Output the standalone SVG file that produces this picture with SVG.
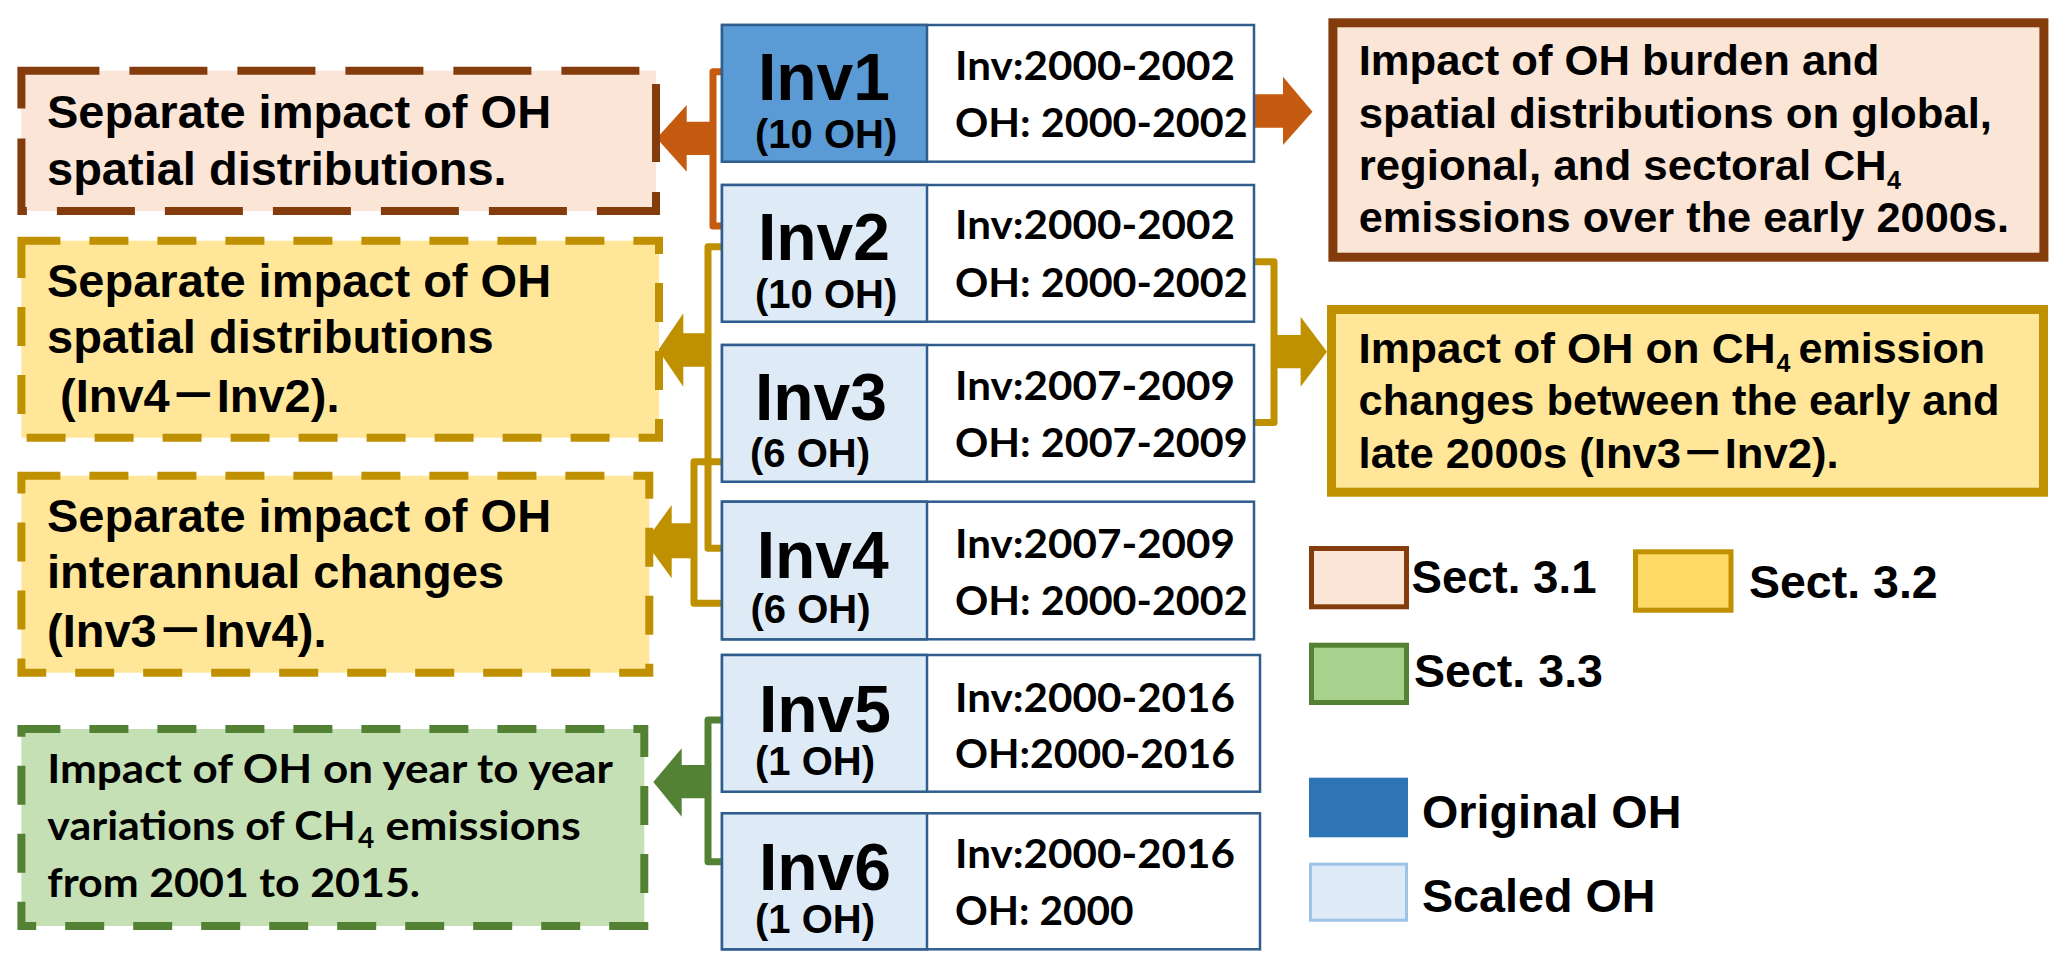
<svg xmlns="http://www.w3.org/2000/svg" width="2067" height="969" viewBox="0 0 2067 969">
<style>
.ar{font-family:"Liberation Sans",Arial,"Noto Sans CJK SC",sans-serif;font-weight:700;fill:#000}
.cb{font-family:Lato,"Liberation Sans","Noto Sans CJK SC",sans-serif;font-weight:700;fill:#000}
.t47{font-size:47px}
.t44{font-size:42px}
.t40{font-size:40px}
.nm{font-size:66px;text-anchor:middle}
.inv{stroke:#2F5E8E;stroke-width:2.5}
.cellw{fill:#FFFFFF}
.cells{fill:#DEEBF7}
.cello{fill:#5B9BD5}
.brd{fill:none;stroke-width:7;stroke-linejoin:round;stroke-linecap:butt}
</style>
<rect width="2067" height="969" fill="#FFFFFF"/>

<g id="connectors">
  <path class="brd" d="M722 71.7 H713 V226 H722" stroke="#C55A11"/>
  <path class="brd" d="M722 246.7 H708 V548.3 H722" stroke="#BF9000"/>
  <path class="brd" d="M722 461.7 H694 V603.3 H722" stroke="#BF9000"/>
  <path class="brd" d="M722 720 H708 V861.7 H722" stroke="#548235"/>
  <path class="brd" d="M1254 261.7 H1274 V422.5 H1254" stroke="#BF9000"/>
  <polygon points="713,121.7 686.7,121.7 686.7,105 656.7,138.3 686.7,171.7 686.7,155 713,155" fill="#C55A11"/>
  <polygon points="708,333.3 683.3,333.3 683.3,313.3 658.3,350 683.3,386.7 683.3,366.7 708,366.7" fill="#BF9000"/>
  <polygon points="694,523.3 671.7,523.3 671.7,505 645,541.7 671.7,578.3 671.7,558.3 694,558.3" fill="#BF9000"/>
  <polygon points="708,765 681.7,765 681.7,748.3 653.3,782 681.7,816.7 681.7,798.3 708,798.3" fill="#548235"/>
  <polygon points="1254,94.3 1283,94.3 1283,76.7 1312.5,111.7 1283,145 1283,127.7 1254,127.7" fill="#C55A11"/>
  <polygon points="1274,335 1300.6,335 1300.6,316.7 1327,351.7 1300.6,386.7 1300.6,368.3 1274,368.3" fill="#BF9000"/>
</g>

<g id="boxA">
  <rect x="21.4" y="70.7" width="634.6" height="140.3" fill="#FBE5D6" stroke="#843C0C" stroke-width="8" stroke-dasharray="78 30"/>
  <text class="ar t47" x="47" y="128.3">Separate impact of OH</text>
  <text class="ar t47" x="47" y="185">spatial distributions.</text>
</g>

<g id="boxB">
  <rect x="21.4" y="240.7" width="637.6" height="197" fill="#FFE699" stroke="#BF9000" stroke-width="8" stroke-dasharray="39 29"/>
  <text class="ar t47" x="47" y="296.7">Separate impact of OH</text>
  <text class="ar t47" x="47" y="353.3">spatial distributions</text>
  <text class="ar t47" x="60" y="411.7">(Inv4－Inv2).</text>
</g>

<g id="boxC">
  <rect x="21.4" y="475.7" width="627.9" height="197" fill="#FFE699" stroke="#BF9000" stroke-width="8" stroke-dasharray="39 29"/>
  <text class="ar t47" x="47" y="531.7">Separate impact of OH</text>
  <text class="ar t47" x="47" y="588.3">interannual changes</text>
  <text class="ar t47" x="47" y="646.7">(Inv3－Inv4).</text>
</g>

<g id="boxF">
  <rect x="21.4" y="729" width="622.9" height="197" fill="#C5E0B4" stroke="#548235" stroke-width="8" stroke-dasharray="39 29"/>
  <text class="cb t40" x="47.3" y="783.3" textLength="565.6" lengthAdjust="spacingAndGlyphs">Impact of OH on year to year</text>
  <text class="cb t40" x="47.3" y="840" textLength="308.5" lengthAdjust="spacingAndGlyphs">variations of CH</text>
  <text class="cb" x="358" y="848.3" font-size="28">4</text>
  <text class="cb t40" x="385.6" y="840" textLength="195.2" lengthAdjust="spacingAndGlyphs">emissions</text>
  <text class="cb t40" x="47.3" y="896.7" textLength="372.7" lengthAdjust="spacingAndGlyphs">from 2001 to 2015.</text>
</g>

<g id="inv1">
  <rect class="inv cellw" x="722" y="25" width="532" height="136.7"/>
  <rect class="inv cello" x="722" y="25" width="205" height="136.7"/>
  <text class="ar nm" x="824" y="100">Inv1</text>
  <text class="ar t40" x="755" y="148.3">(10 OH)</text>
  <text class="cb t40" x="955" y="80" textLength="280" lengthAdjust="spacingAndGlyphs">Inv:2000-2002</text>
  <text class="cb t40" x="955" y="136.7" textLength="292.6" lengthAdjust="spacingAndGlyphs">OH: 2000-2002</text>
</g>

<g id="inv2">
  <rect class="inv cellw" x="722" y="185" width="532" height="136.7"/>
  <rect class="inv cells" x="722" y="185" width="205" height="136.7"/>
  <text class="ar nm" x="824" y="260">Inv2</text>
  <text class="ar t40" x="755" y="308.3">(10 OH)</text>
  <text class="cb t40" x="955" y="239.3" textLength="280" lengthAdjust="spacingAndGlyphs">Inv:2000-2002</text>
  <text class="cb t40" x="955" y="296.7" textLength="292.6" lengthAdjust="spacingAndGlyphs">OH: 2000-2002</text>
</g>

<g id="inv3">
  <rect class="inv cellw" x="722" y="345" width="532" height="136.7"/>
  <rect class="inv cells" x="722" y="345" width="205" height="136.7"/>
  <text class="ar nm" x="821" y="420">Inv3</text>
  <text class="ar t40" x="750" y="466.7">(6 OH)</text>
  <text class="cb t40" x="955" y="400" textLength="280" lengthAdjust="spacingAndGlyphs">Inv:2007-2009</text>
  <text class="cb t40" x="955" y="456.7" textLength="292.6" lengthAdjust="spacingAndGlyphs">OH: 2007-2009</text>
</g>

<g id="inv4">
  <rect class="inv cellw" x="722" y="501.7" width="532" height="137.6"/>
  <rect class="inv cells" x="722" y="501.7" width="205" height="137.6"/>
  <text class="ar nm" x="822.7" y="578.3">Inv4</text>
  <text class="ar t40" x="750.5" y="623.3">(6 OH)</text>
  <text class="cb t40" x="955" y="558.3" textLength="280" lengthAdjust="spacingAndGlyphs">Inv:2007-2009</text>
  <text class="cb t40" x="955" y="615" textLength="292.6" lengthAdjust="spacingAndGlyphs">OH: 2000-2002</text>
</g>

<g id="inv5">
  <rect class="inv cellw" x="722" y="655" width="538" height="136.7"/>
  <rect class="inv cells" x="722" y="655" width="205" height="136.7"/>
  <text class="ar nm" x="825" y="731.7">Inv5</text>
  <text class="ar t40" x="755" y="775">(1 OH)</text>
  <text class="cb t40" x="955" y="711.7" textLength="280" lengthAdjust="spacingAndGlyphs">Inv:2000-2016</text>
  <text class="cb t40" x="955" y="768.3" textLength="280" lengthAdjust="spacingAndGlyphs">OH:2000-2016</text>
</g>

<g id="inv6">
  <rect class="inv cellw" x="722" y="813.3" width="538" height="136"/>
  <rect class="inv cells" x="722" y="813.3" width="205" height="136"/>
  <text class="ar nm" x="825" y="890">Inv6</text>
  <text class="ar t40" x="755" y="933.3">(1 OH)</text>
  <text class="cb t40" x="955" y="868.3" textLength="280" lengthAdjust="spacingAndGlyphs">Inv:2000-2016</text>
  <text class="cb t40" x="955" y="925" textLength="178.6" lengthAdjust="spacingAndGlyphs">OH: 2000</text>
</g>

<g id="boxD">
  <rect x="1332.9" y="22.8" width="711" height="234.4" fill="#FBE5D6" stroke="#843C0C" stroke-width="9"/>
  <text class="ar t44" x="1358.7" y="75" textLength="520.8" lengthAdjust="spacingAndGlyphs">Impact of OH burden and</text>
  <text class="ar t44" x="1358.7" y="128.3" textLength="633.3" lengthAdjust="spacingAndGlyphs">spatial distributions on global,</text>
  <text class="ar t44" x="1358.7" y="180" textLength="528" lengthAdjust="spacingAndGlyphs">regional, and sectoral CH</text>
  <text class="ar" x="1887" y="189" font-size="25">4</text>
  <text class="ar t44" x="1358.7" y="231.7" textLength="650.3" lengthAdjust="spacingAndGlyphs">emissions over the early 2000s.</text>
</g>

<g id="boxE">
  <rect x="1331.5" y="309.5" width="712" height="182.7" fill="#FFE699" stroke="#BF9000" stroke-width="9"/>
  <text class="ar t44" x="1358.6" y="363.3" textLength="417" lengthAdjust="spacingAndGlyphs">Impact of OH on CH</text>
  <text class="ar" x="1776.5" y="372" font-size="25">4</text>
  <text class="ar t44" x="1798.5" y="363.3" textLength="186.5" lengthAdjust="spacingAndGlyphs">emission</text>
  <text class="ar t44" x="1358.6" y="415" textLength="640.8" lengthAdjust="spacingAndGlyphs">changes between the early and</text>
  <text class="ar t44" x="1358.6" y="467.5" textLength="480" lengthAdjust="spacingAndGlyphs">late 2000s (Inv3－Inv2).</text>
</g>

<g id="legend">
  <rect x="1311.5" y="548.5" width="95" height="58.3" fill="#FBE5D6" stroke="#843C0C" stroke-width="5"/>
  <text class="ar" x="1411.5" y="592.7" font-size="46" textLength="185" lengthAdjust="spacingAndGlyphs">Sect. 3.1</text>
  <rect x="1635.5" y="551.8" width="95.5" height="58.4" fill="#FFD966" stroke="#BF9000" stroke-width="5"/>
  <text class="ar" x="1749" y="597.7" font-size="46" textLength="188.7" lengthAdjust="spacingAndGlyphs">Sect. 3.2</text>
  <rect x="1311.5" y="645.2" width="95" height="57.3" fill="#A9D18E" stroke="#548235" stroke-width="5"/>
  <text class="ar" x="1414" y="686.7" font-size="46" textLength="189" lengthAdjust="spacingAndGlyphs">Sect. 3.3</text>
  <rect x="1309" y="777.7" width="99" height="59.6" fill="#2E75B6"/>
  <text class="ar" x="1422" y="828.3" font-size="46" textLength="259.4" lengthAdjust="spacingAndGlyphs">Original OH</text>
  <rect x="1310.5" y="864.2" width="96" height="56" fill="#DEEBF7" stroke="#9DC3E6" stroke-width="3"/>
  <text class="ar" x="1422" y="911.7" font-size="46" textLength="233.4" lengthAdjust="spacingAndGlyphs">Scaled OH</text>
</g>
</svg>
